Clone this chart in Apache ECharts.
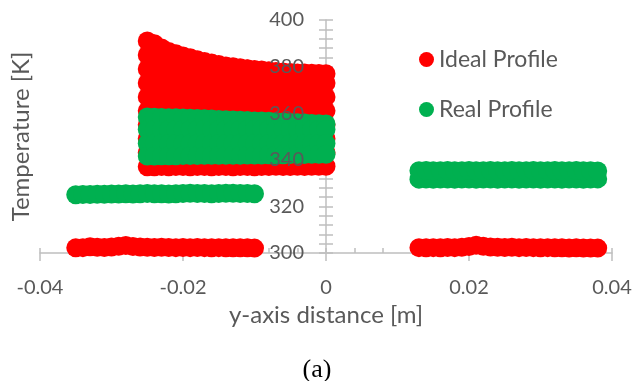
<!DOCTYPE html>
<html>
<head>
<meta charset="utf-8">
<script src="https://cdn.jsdelivr.net/npm/echarts@6/dist/echarts.min.js"></script>
<style>
  html, body { margin: 0; padding: 0; background: #fff; }
  #main { width: 634px; height: 381px; }
</style>
</head>
<body>
<div id="main"></div>
<script>
// x positions (m) of the three groups of nodes
const xLeft = [-0.035, -0.034, -0.033, -0.032, -0.031, -0.030, -0.029, -0.028, -0.027,
  -0.026, -0.025, -0.024, -0.023, -0.022, -0.021, -0.020, -0.019, -0.018, -0.017,
  -0.016, -0.015, -0.014, -0.013, -0.012, -0.011, -0.010];
const xCore = [-0.025, -0.024, -0.023, -0.022, -0.021, -0.020, -0.019, -0.018, -0.017,
  -0.016, -0.015, -0.014, -0.013, -0.012, -0.011, -0.010, -0.009, -0.008, -0.007,
  -0.006, -0.005, -0.004, -0.003, -0.002, -0.001, 0];
const xRight = [0.013, 0.014, 0.015, 0.016, 0.017, 0.018, 0.019, 0.020, 0.021,
  0.022, 0.023, 0.024, 0.025, 0.026, 0.027, 0.028, 0.029, 0.030, 0.031,
  0.032, 0.033, 0.034, 0.035, 0.036, 0.037, 0.038];

// Ideal profile temperatures (K)
const idealLeft = [302.2, 302.3, 302.7, 302.5, 302.4, 302.6, 302.9, 303.2, 302.8,
  302.6, 302.5, 302.4, 302.5, 302.4, 302.3, 302.4, 302.3, 302.4, 302.3,
  302.2, 302.3, 302.2, 302.2, 302.2, 302.2, 302.1];
const idealRight = [302.3, 302.2, 302.3, 302.2, 302.4, 302.3, 302.5, 302.8, 303.3,
  302.9, 302.6, 302.5, 302.4, 302.5, 302.3, 302.4, 302.3, 302.2, 302.3,
  302.2, 302.2, 302.1, 302.2, 302.1, 302.1, 302.1];
const idealCoreTop = [391, 389.8, 388, 386.5, 385.5, 384.6, 383.8, 382.9, 382.2,
  381.5, 380.9, 380.3, 379.9, 379.5, 379.1, 378.8, 378.5, 378.2, 377.9,
  377.7, 377.5, 377.3, 377.2, 377.1, 377.0, 376.9];
const idealCoreBottom = [337.0, 337.0, 337.1, 337.0, 337.1, 337.1, 337.0, 337.1, 337.1,
  337.0, 337.1, 337.1, 337.0, 337.1, 337.1, 337.0, 337.1, 337.1, 337.2,
  337.1, 337.1, 337.2, 337.1, 337.2, 337.2, 337.2];
const idealCoreLevels = [385, 379, 373, 367, 361, 355, 349, 343];

// Real profile temperatures (K)
const realLeft = [325.0, 325.1, 325.1, 325.2, 325.2, 325.3, 325.3, 325.4, 325.3,
  325.4, 325.5, 325.4, 325.4, 325.3, 325.4, 325.5, 325.6, 325.5, 325.5,
  325.4, 325.5, 325.6, 325.6, 325.5, 325.5, 325.4];
const realRightLow = [331.7, 331.8, 331.7, 331.8, 331.8, 331.7, 331.8, 331.8, 331.7,
  331.8, 331.8, 331.7, 331.8, 331.8, 331.7, 331.8, 331.8, 331.7, 331.8,
  331.8, 331.7, 331.8, 331.8, 331.7, 331.8, 331.8];
const realRightHigh = [335.3, 335.4, 335.3, 335.3, 335.4, 335.3, 335.3, 335.4, 335.3,
  335.3, 335.4, 335.3, 335.3, 335.4, 335.3, 335.3, 335.4, 335.3, 335.3,
  335.4, 335.3, 335.3, 335.4, 335.3, 335.3, 335.2];
const realCoreTop = [358.4, 358.3, 358.2, 358.1, 358.0, 357.9, 357.8, 357.7, 357.6,
  357.5, 357.3, 357.2, 357.1, 357.0, 356.9, 356.7, 356.6, 356.5, 356.3,
  356.2, 356.0, 355.9, 355.8, 355.6, 355.5, 355.4];
const realCoreBottom = [341.6, 341.6, 341.7, 341.7, 341.7, 341.8, 341.8, 341.8, 341.9,
  341.9, 341.9, 342.0, 342.0, 342.0, 342.1, 342.1, 342.1, 342.2, 342.2,
  342.2, 342.3, 342.3, 342.3, 342.4, 342.4, 342.4];
const realCoreLevels = [353, 347];

const xTicks = ['-0.04', '-0.02', '0', '0.02', '0.04'];
const yTicks = ['300', '320', '340', '360', '380', '400'];

function band(xs, ts) {
  return xs.map((x, i) => [x, ts[i]]);
}
function block(xs, top, bottom, levels) {
  let pts = [];
  xs.forEach((x, i) => {
    pts.push([x, top[i]]);
    levels.forEach(lv => {
      if (lv < top[i] && lv > bottom[i]) pts.push([x, lv]);
    });
    pts.push([x, bottom[i]]);
  });
  return pts;
}

const idealData = band(xLeft, idealLeft)
  .concat(band(xRight, idealRight))
  .concat(block(xCore, idealCoreTop, idealCoreBottom, idealCoreLevels));
const realData = band(xLeft, realLeft)
  .concat(band(xRight, realRightLow))
  .concat(band(xRight, realRightHigh))
  .concat(block(xCore, realCoreTop, realCoreBottom, realCoreLevels));

const font = 'Lato';
const gray = '#bfbfbf';
const txt = '#595959';
const xMin = Number(xTicks[0]), xMax = Number(xTicks[xTicks.length - 1]);
const yMin = Number(yTicks[0]), yMax = Number(yTicks[yTicks.length - 1]);

// plot area; the value axis sits at x = 0, so a second grid starts there
const plotLeft = 40, plotRight = 22, plotTop = 20, plotBottom = 128;
const plotWidth = 634 - plotLeft - plotRight;
const zeroX = plotLeft + plotWidth * (0 - xMin) / (xMax - xMin);

const chart = echarts.init(document.getElementById('main'));
const option = {
  animation: false,
  backgroundColor: '#fff',
  title: {
    text: '(a)',
    left: 'center',
    top: 352,
    textStyle: { fontFamily: 'Liberation Serif', fontSize: 26, fontWeight: 'normal', color: '#000' }
  },
  legend: {
    orient: 'vertical',
    left: 414,
    top: 43,
    itemWidth: 15,
    itemHeight: 15,
    itemGap: 27,
    icon: 'circle',
    textStyle: { fontFamily: font, fontSize: 23, color: txt },
    data: ['Ideal Profile', 'Real Profile']
  },
  grid: [
    { left: plotLeft, right: plotRight, top: plotTop, bottom: plotBottom, outerBoundsMode: 'none' },
    { left: zeroX, right: plotRight, top: plotTop, bottom: plotBottom, outerBoundsMode: 'none' }
  ],
  xAxis: [{
    gridIndex: 0, type: 'value', min: xMin, max: xMax, interval: 0.02, position: 'bottom',
    splitLine: { show: false },
    axisLine: { onZero: false, lineStyle: { color: gray, width: 1.5 } },
    axisTick: { length: 8, lineStyle: { color: gray, width: 1.5 } },
    axisLabel: {
      margin: 25, fontFamily: font, fontSize: 20, color: txt,
      formatter: v => xTicks.find(t => Math.abs(Number(t) - v) < 1e-9) || ''
    },
    name: 'y-axis distance [m]', nameLocation: 'middle', nameGap: 45,
    nameTextStyle: { fontFamily: font, fontSize: 24, color: txt }
  }, {
    gridIndex: 0, type: 'value', min: xMin, max: xMax, interval: 0.02, position: 'bottom',
    splitLine: { show: false },
    axisLine: { show: false, onZero: false },
    axisTick: { inside: true, length: 5, lineStyle: { color: gray, width: 1.5 } },
    minorTick: { show: true, splitNumber: 5, length: 5, lineStyle: { color: gray, width: 1.5 } },
    axisLabel: { show: false }
  }, {
    gridIndex: 1, type: 'value', min: 0, max: 1, show: false,
    axisLine: { onZero: false }
  }],
  yAxis: [{
    gridIndex: 0, type: 'value', min: yMin, max: yMax, interval: 20, position: 'left',
    splitLine: { show: false },
    axisLine: { show: false, onZero: false },
    axisTick: { show: false },
    axisLabel: { show: false },
    name: 'Temperature [K]', nameLocation: 'middle', nameGap: 7,
    nameTextStyle: { fontFamily: font, fontSize: 24, color: txt }
  }, {
    // axis line with ticks to the left
    gridIndex: 1, type: 'value', min: yMin, max: yMax, interval: 20, position: 'left',
    splitLine: { show: false },
    axisLine: { onZero: false, lineStyle: { color: gray, width: 1.5 } },
    axisTick: { length: 7, lineStyle: { color: gray, width: 1.5 } },
    minorTick: { show: true, splitNumber: 5, length: 7, lineStyle: { color: gray, width: 1.5 } },
    axisLabel: { show: false }
  }, {
    // ticks to the right, so they cross the line
    gridIndex: 1, type: 'value', min: yMin, max: yMax, interval: 20, position: 'left',
    splitLine: { show: false },
    axisLine: { onZero: false, lineStyle: { opacity: 0 } },
    axisTick: { inside: true, length: 7, lineStyle: { color: gray, width: 1.5 } },
    minorTick: { show: true, splitNumber: 5, length: 7, lineStyle: { color: gray, width: 1.5 } },
    axisLabel: { show: false }
  }, {
    // tick labels, drawn above the markers
    gridIndex: 1, type: 'value', min: yMin, max: yMax, interval: 20, position: 'left', z: 10,
    splitLine: { show: false },
    axisLine: { onZero: false, lineStyle: { opacity: 0 } },
    axisTick: { show: false },
    axisLabel: {
      margin: 22, fontFamily: font, fontSize: 20, color: txt,
      formatter: v => yTicks.find(t => Number(t) === v) || ''
    }
  }],
  series: [{
    name: 'Ideal Profile',
    type: 'scatter',
    xAxisIndex: 0, yAxisIndex: 0,
    symbol: 'circle',
    symbolSize: 19,
    itemStyle: { color: '#ff0000', opacity: 1 },
    data: idealData
  }, {
    name: 'Real Profile',
    type: 'scatter',
    xAxisIndex: 0, yAxisIndex: 0,
    symbol: 'circle',
    symbolSize: 19,
    itemStyle: { color: '#00b050', opacity: 1 },
    data: realData
  }]
};
chart.setOption(option);
</script>
</body>
</html>
